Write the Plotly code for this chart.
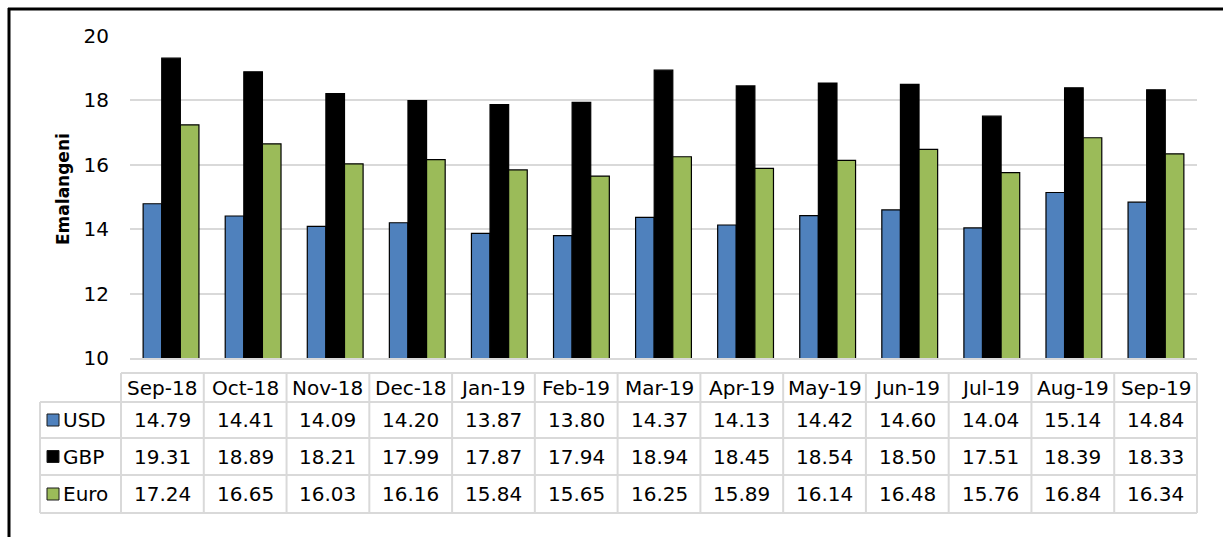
import plotly.graph_objects as go

# Monthly average exchange rates (Emalangeni per unit of foreign currency)
months = ["Sep-18", "Oct-18", "Nov-18", "Dec-18", "Jan-19", "Feb-19", "Mar-19",
          "Apr-19", "May-19", "Jun-19", "Jul-19", "Aug-19", "Sep-19"]
usd = [14.79, 14.41, 14.09, 14.20, 13.87, 13.80, 14.37, 14.13, 14.42, 14.60, 14.04, 15.14, 14.84]
gbp = [19.31, 18.89, 18.21, 17.99, 17.87, 17.94, 18.94, 18.45, 18.54, 18.50, 17.51, 18.39, 18.33]
euro = [17.24, 16.65, 16.03, 16.16, 15.84, 15.65, 16.25, 15.89, 16.14, 16.48, 15.76, 16.84, 16.34]

series = [("USD", usd, "#4F81BD"), ("GBP", gbp, "#000000"), ("Euro", euro, "#9BBB59")]

W, H = 1223, 537
FONT = "DejaVu Sans"


def px(x):
    return x / W


def py(y):
    return 1 - y / H


fig = go.Figure()
for name, vals, col in series:
    fig.add_trace(go.Bar(x=months, y=vals, name=name, marker_color=col,
                         marker_line_color="#000000", marker_line_width=1.2))

shapes = []
annotations = []

# data table under the plot
tbl_left, first_col, tbl_right = 40, 121, 1197
row_edges = [373, 402, 438, 475, 513]
ncol = len(months)
colw = (tbl_right - first_col) / ncol
grid = dict(color="#D9D9D9", width=2)

# horizontal lines
shapes.append(dict(type="line", xref="paper", yref="paper", x0=px(first_col), x1=px(tbl_right),
                   y0=py(row_edges[0]), y1=py(row_edges[0]), line=grid))
for y in row_edges[1:]:
    shapes.append(dict(type="line", xref="paper", yref="paper", x0=px(tbl_left), x1=px(tbl_right),
                       y0=py(y), y1=py(y), line=grid))
# vertical lines
shapes.append(dict(type="line", xref="paper", yref="paper", x0=px(tbl_left), x1=px(tbl_left),
                   y0=py(row_edges[1]), y1=py(row_edges[-1]), line=grid))
for i in range(ncol + 1):
    x = first_col + i * colw
    shapes.append(dict(type="line", xref="paper", yref="paper", x0=px(x), x1=px(x),
                       y0=py(row_edges[0]), y1=py(row_edges[-1]), line=grid))

tfont = dict(family=FONT, size=20, color="#000000")
for i, m in enumerate(months):
    cx = first_col + (i + 0.5) * colw
    annotations.append(dict(x=px(cx), y=py((row_edges[0] + row_edges[1]) / 2), xref="paper", yref="paper",
                            text=m, showarrow=False, font=tfont, xanchor="center", yanchor="middle"))
for r, (name, vals, col) in enumerate(series):
    cy = (row_edges[r + 1] + row_edges[r + 2]) / 2
    for i, v in enumerate(vals):
        cx = first_col + (i + 0.5) * colw
        annotations.append(dict(x=px(cx), y=py(cy), xref="paper", yref="paper",
                                text=f"{v:.2f}", showarrow=False, font=tfont,
                                xanchor="center", yanchor="middle"))
    # legend key
    shapes.append(dict(type="rect", xref="paper", yref="paper", x0=px(47), x1=px(59),
                       y0=py(cy - 6), y1=py(cy + 6), fillcolor=col,
                       line=dict(color="#1a1a1a", width=1)))
    annotations.append(dict(x=px(61), y=py(cy), xref="paper", yref="paper", text=name,
                            showarrow=False, font=tfont, xanchor="left", yanchor="middle"))

# outer frame (top and left edges)
frame = dict(color="#000000", width=3)
shapes.append(dict(type="line", xref="paper", yref="paper", x0=px(8), x1=1, y0=py(9), y1=py(9), line=frame))
shapes.append(dict(type="line", xref="paper", yref="paper", x0=px(9), x1=px(9), y0=py(8), y1=0, line=frame))

# y-axis title
annotations.append(dict(x=px(63), y=py(189), xref="paper", yref="paper", text="<b>Emalangeni</b>",
                        showarrow=False, textangle=-90, font=dict(family=FONT, size=17, color="#000000"),
                        xanchor="center", yanchor="middle"))

fig.update_layout(
    width=W, height=H,
    margin=dict(l=0, r=0, t=0, b=0, pad=0),
    paper_bgcolor="#FFFFFF", plot_bgcolor="#FFFFFF",
    barmode="group", bargap=0.32, bargroupgap=0,
    showlegend=False,
    xaxis=dict(domain=[px(130), px(1197)], showticklabels=False, showgrid=False, automargin=False,
               showline=True, linecolor="#D9D9D9", linewidth=2, ticks="", anchor="y"),
    yaxis=dict(domain=[py(358), py(36)], range=[10, 20], dtick=2, showgrid=True, automargin=False,
               gridcolor="#D9D9D9", gridwidth=2, zeroline=False, ticks="",
               tickfont=dict(family=FONT, size=20, color="#000000"), ticklabelstandoff=20),
    shapes=shapes, annotations=annotations,
)

fig.write_html("out.html")
